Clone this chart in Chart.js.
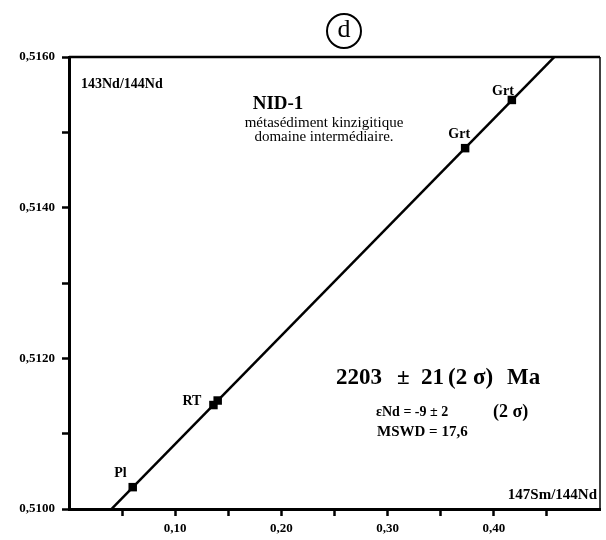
<!DOCTYPE html>
<html>
<head>
<meta charset="utf-8">
<script src="https://cdn.jsdelivr.net/npm/chart.js@4.4.1/dist/chart.umd.min.js"></script>
<style>html,body{margin:0;padding:0;background:#fff}</style>
</head>
<body>
<canvas id="canvas" width="606" height="540"></canvas>
<script>
//DATA - 147Sm/144Nd vs 143Nd/144Nd
var sampleNames = ['Pl','RT','','Grt','Grt'];
var smNd = [0.060,0.136,0.140,0.373,0.417];
var ndNd = [0.51029,0.51138,0.51144,0.51479,0.51543];
//isochron, read at both ends of the plot
var isoX = [0.00,0.50];
var isoY = [0.509424,0.516619];
//labelled ticks
var xLabelled = [0.10,0.20,0.30,0.40];
var yLabelled = [0.5100,0.5120,0.5140,0.5160];

var serif = "'Liberation Serif', 'DejaVu Serif', serif";
function comma(v,d){ return v.toFixed(d).replace('.',','); }
function has(list,v){ return list.some(function(a){ return Math.abs(a-v)<1e-7; }); }

var pts = smNd.map(function(x,i){ return {x:x,y:ndNd[i]}; });
var iso = isoX.map(function(x,i){ return {x:x,y:isoY[i]}; });

//where the sample names sit, relative to their point (right edge, middle)
var lblDx = [-6,-12,0,5,2];
var lblDy = [-14,-4,0,-14,-9];

var decor = {
  id:'decor',
  afterDraw:function(chart){
    var c = chart.ctx, a = chart.chartArea;
    c.save();
    c.strokeStyle = '#000';
    c.fillStyle = '#000';
    //top + right frame
    c.lineWidth = 2.5;
    c.beginPath(); c.moveTo(a.left,a.top); c.lineTo(a.right,a.top); c.stroke();
    c.lineWidth = 1.5;
    c.beginPath(); c.moveTo(a.right,a.top); c.lineTo(a.right,a.bottom); c.stroke();
    //circled d
    c.lineWidth = 2;
    c.beginPath(); c.arc(344,31,17,0,Math.PI*2); c.stroke();
    c.textAlign = 'center'; c.textBaseline = 'middle';
    c.font = '26px ' + serif;
    c.fillText('d',344,30);
    //sample names
    var meta = chart.getDatasetMeta(1);
    c.font = 'bold 14px ' + serif;
    c.textAlign = 'right';
    meta.data.forEach(function(p,i){
      if(sampleNames[i]) c.fillText(sampleNames[i], p.x + lblDx[i], p.y + lblDy[i]);
    });
    //texts
    c.textAlign = 'left';
    c.font = 'bold 14px ' + serif;
    c.fillText('143Nd/144Nd',81,84);
    c.textAlign = 'center';
    c.font = 'bold 19px ' + serif;
    c.fillText('NID-1',278,104);
    c.font = '15px ' + serif;
    c.fillText('métasédiment kinzigitique',324,123);
    c.fillText('domaine intermédiaire.',324,137);
    c.textAlign = 'left';
    c.font = 'bold 23px ' + serif;
    c.fillText('2203',336,378);
    c.fillText('±',397,378);
    c.fillText('21',421,378);
    c.fillText('(2 σ)',448,378);
    c.fillText('Ma',507,378);
    c.font = 'bold 14px ' + serif;
    c.fillText('εNd = -9 ± 2',376,412);
    c.font = 'bold 15px ' + serif;
    c.fillText('MSWD = 17,6',377,432);
    c.font = 'bold 18px ' + serif;
    c.fillText('(2 σ)',493,412);
    c.textAlign = 'right';
    c.font = 'bold 15px ' + serif;
    c.fillText('147Sm/144Nd',597,495);
    c.restore();
  }
};

var ctx = document.getElementById('canvas').getContext('2d');
var chart = new Chart(ctx,{
  type:'scatter',
  data:{datasets:[
    {type:'line',data:iso,borderColor:'#000',borderWidth:2.5,pointRadius:0,fill:false,tension:0},
    {data:pts,pointStyle:'rect',pointRadius:6,backgroundColor:'#000',borderColor:'#000',borderWidth:0}
  ]},
  options:{
    responsive:false,animation:false,devicePixelRatio:1,
    layout:{padding:{top:57,right:2,left:0,bottom:0}},
    plugins:{legend:{display:false},tooltip:{enabled:false}},
    scales:{
      x:{type:'linear',min:0,max:0.5,
        afterFit:function(s){ s.height = 31; },
        ticks:{stepSize:0.05,autoSkip:false,maxRotation:0,color:'#000',padding:5,
          font:{family:serif,size:13,weight:'bold'},
          callback:function(v){ return has(xLabelled,v) ? comma(v,2) : ''; }},
        grid:{drawOnChartArea:false,tickLength:7,tickWidth:2.5,
          color:function(cx){ return (cx.tick && (cx.tick.value<=0 || cx.tick.value>=0.5)) ? 'rgba(0,0,0,0)' : '#000'; }},
        border:{color:'#000',width:3}},
      y:{type:'linear',min:0.5100,max:0.5160,
        afterFit:function(s){ s.width = 69; },
        ticks:{stepSize:0.001,autoSkip:false,color:'#000',padding:7,
          font:{family:serif,size:13,weight:'bold'},
          callback:function(v){ return has(yLabelled,v) ? comma(v,4) : ''; }},
        grid:{drawOnChartArea:false,tickLength:7,tickWidth:2.5,color:'#000'},
        border:{color:'#000',width:3}}
    }
  },
  plugins:[decor]
});
</script>
</body>
</html>
